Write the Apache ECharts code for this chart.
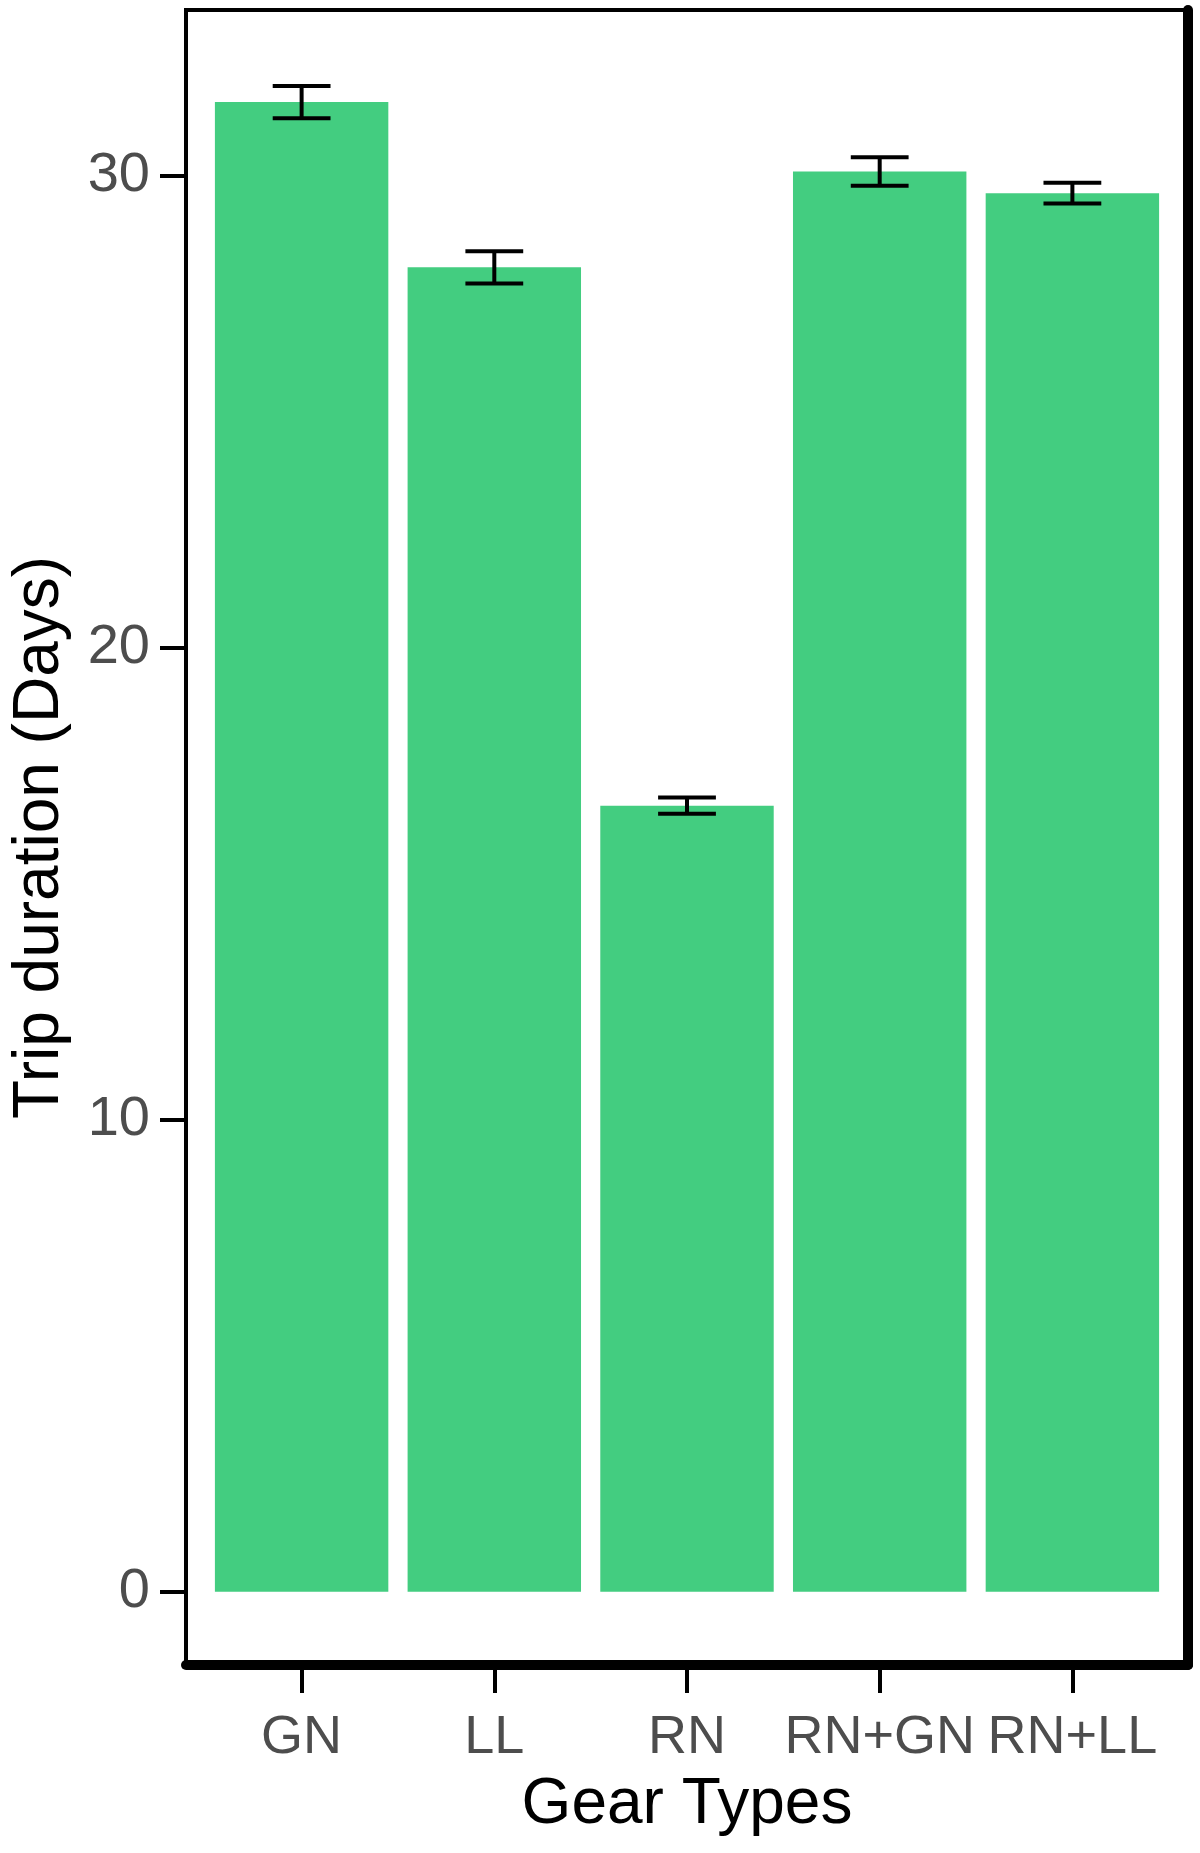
<!DOCTYPE html>
<html>
<head>
<meta charset="utf-8">
<script src="https://cdn.jsdelivr.net/npm/echarts@6/dist/echarts.min.js"></script>
<style>
html,body{margin:0;padding:0;background:#fff;}
#chart{width:1200px;height:1853px;}
</style>
</head>
<body>
<div id="chart"></div>
<script>
const categories = ['GN', 'LL', 'RN', 'RN+GN', 'RN+LL'];
const means = [31.55, 28.05, 16.65, 30.08, 29.62];
const errors = [0.34, 0.34, 0.17, 0.3, 0.22];
const yTicks = [0, 10, 20, 30];

const positions = categories.map((c, i) => i + 1);
const barData = categories.map((c, i) => [positions[i], means[i]]);
const errData = categories.map((c, i) => [positions[i], means[i], errors[i]]);

const FONT = '"Liberation Sans", Arial, sans-serif';
const chart = echarts.init(document.getElementById('chart'), null, {renderer: 'canvas'});

chart.setOption({
  animation: false,
  backgroundColor: '#ffffff',
  grid: {
    left: 183.5, top: 10, width: 1004.5, height: 1655,
    show: true, borderColor: '#000', borderWidth: 4, backgroundColor: 'transparent'
  },
  xAxis: {
    type: 'value', min: 0.4, max: 5.6,
    axisLine: {show: true, onZero: false, lineStyle: {color: '#000', width: 10}},
    axisTick: {show: true, customValues: positions, length: 28, lineStyle: {color: '#000', width: 4}},
    axisLabel: {
      customValues: positions,
      formatter: v => categories[Math.round(v) - 1] || '',
      color: '#4D4D4D', fontSize: 54, fontFamily: FONT, margin: 46
    },
    splitLine: {show: false},
    name: 'Gear Types', nameLocation: 'middle', nameGap: 108,
    nameTextStyle: {color: '#000', fontSize: 64, fontFamily: FONT}
  },
  yAxis: [{
    type: 'value', min: -1.55, max: 33.5,
    axisLine: {show: true, onZero: false, lineStyle: {color: '#000', width: 4}},
    axisTick: {show: true, customValues: yTicks, length: 26, lineStyle: {color: '#000', width: 4}},
    axisLabel: {customValues: yTicks, color: '#4D4D4D', fontSize: 56, fontFamily: FONT, margin: 36},
    splitLine: {show: false},
    name: 'Trip duration (Days)', nameLocation: 'middle', nameGap: 114, nameRotate: 90,
    nameTextStyle: {color: '#000', fontSize: 64, fontFamily: FONT}
  }, {
    type: 'value', min: -1.55, max: 33.5, position: 'right',
    axisLine: {show: true, onZero: false, lineStyle: {color: '#000', width: 10}},
    axisTick: {show: false}, axisLabel: {show: false}, splitLine: {show: false}
  }],
  series: [{
    type: 'custom',
    data: barData,
    encode: {x: 0, y: 1},
    renderItem: function (params, api) {
      const x = api.value(0), y = api.value(1);
      const p1 = api.coord([x - 0.45, y]);
      const p2 = api.coord([x + 0.45, 0]);
      return {
        type: 'rect',
        shape: {x: p1[0], y: p1[1], width: p2[0] - p1[0], height: p2[1] - p1[1]},
        style: {fill: '#43CD80'}
      };
    }
  }, {
    type: 'custom',
    data: errData,
    encode: {x: 0, y: 1},
    z: 3,
    renderItem: function (params, api) {
      const x = api.value(0), m = api.value(1), e = api.value(2);
      const top = api.coord([x, m + e]);
      const bot = api.coord([x, m - e]);
      const l = api.coord([x - 0.15, m])[0];
      const r = api.coord([x + 0.15, m])[0];
      const st = {stroke: '#000', lineWidth: 4};
      return {
        type: 'group',
        children: [
          {type: 'line', shape: {x1: top[0], y1: top[1], x2: bot[0], y2: bot[1]}, style: st},
          {type: 'line', shape: {x1: l, y1: top[1], x2: r, y2: top[1]}, style: st},
          {type: 'line', shape: {x1: l, y1: bot[1], x2: r, y2: bot[1]}, style: st}
        ]
      };
    }
  }]
});
</script>
</body>
</html>
